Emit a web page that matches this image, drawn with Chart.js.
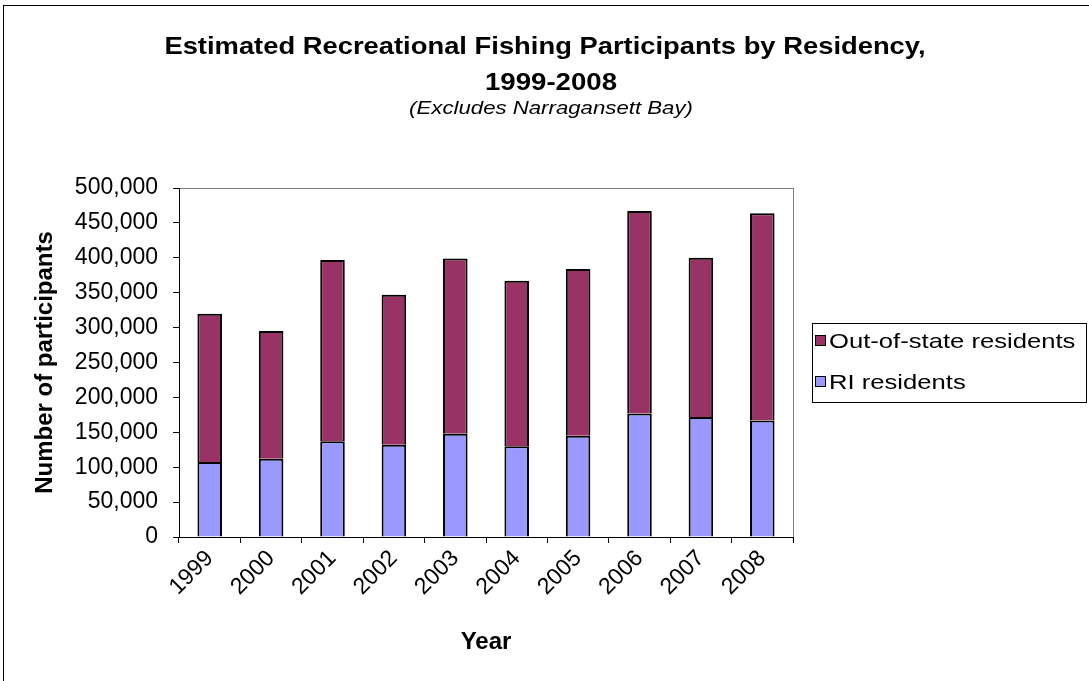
<!DOCTYPE html>
<html>
<head>
<meta charset="utf-8">
<script src="https://cdn.jsdelivr.net/npm/chart.js@4.4.0/dist/chart.umd.min.js"></script>
<style>
  html, body { margin: 0; padding: 0; background: #fff; }
  #wrap { width: 1089px; height: 681px; position: relative; }
</style>
</head>
<body>
<div id="wrap"><canvas id="c" width="1089" height="681"></canvas></div>
<script>
const years = ['1999','2000','2001','2002','2003','2004','2005','2006','2007','2008'];
const riResidents = [107500, 112000, 137000, 132000, 148000, 130000, 145000, 177000, 172000, 167000];
const totalParticipants = [320000, 295000, 397000, 347000, 399000, 367000, 384000, 467000, 400000, 464000];
const outOfState = totalParticipants.map((t, i) => t - riResidents[i]);
const seriesLabels = ['RI residents', 'Out-of-state residents'];
const seriesColors = ['#9999FF', '#993366'];
const titleLines = ['Estimated Recreational Fishing Participants by Residency,', '1999-2008'];
const subtitleText = '(Excludes Narragansett Bay)';
const yAxisTitle = 'Number of participants';
const xAxisTitle = 'Year';

const FONT = "'Liberation Sans', Arial, sans-serif";

function stretchedText(ctx, text, x, y, sx) {
  ctx.save();
  ctx.translate(x, y);
  ctx.scale(sx, 1);
  ctx.fillText(text, 0, 0);
  ctx.restore();
}

const decor = {
  id: 'decor',
  beforeDraw(chart) {
    const ctx = chart.ctx;
    ctx.save();
    ctx.fillStyle = '#fff';
    ctx.fillRect(0, 0, chart.width, chart.height);
    ctx.strokeStyle = '#000';
    ctx.lineWidth = 1;
    ctx.strokeRect(3.5, 5.5, 1200, 1200);
    const a = chart.chartArea;
    ctx.strokeStyle = '#808080';
    ctx.strokeRect(a.left + 0.5, a.top + 0.5, a.right - a.left, a.bottom - a.top);
    ctx.restore();
  },
  afterDraw(chart) {
    const ctx = chart.ctx;
    ctx.save();
    ctx.fillStyle = '#000';
    ctx.textAlign = 'center';
    ctx.textBaseline = 'middle';
    ctx.font = 'bold 24px ' + FONT;
    stretchedText(ctx, titleLines[0], 545, 47, 1.14);
    stretchedText(ctx, titleLines[1], 551, 83, 1.15);
    ctx.font = 'italic 18.5px ' + FONT;
    stretchedText(ctx, subtitleText, 551, 109, 1.2);

    // legend
    ctx.strokeStyle = '#000';
    ctx.lineWidth = 1;
    ctx.strokeRect(812.5, 323.5, 274, 79);
    const items = [
      { label: seriesLabels[1], color: seriesColors[1], y: 341 },
      { label: seriesLabels[0], color: seriesColors[0], y: 382 }
    ];
    ctx.font = '21px ' + FONT;
    ctx.textAlign = 'left';
    items.forEach(it => {
      ctx.fillStyle = it.color;
      ctx.fillRect(815.5, it.y - 5.5, 10, 10);
      ctx.strokeStyle = '#000';
      ctx.strokeRect(815.5, it.y - 5.5, 10, 10);
      ctx.fillStyle = '#000';
      stretchedText(ctx, it.label, 829, it.y + 1, 1.22);
    });
    ctx.restore();
  }
};

new Chart(document.getElementById('c'), {
  type: 'bar',
  data: {
    labels: years,
    datasets: [
      { label: seriesLabels[0], data: riResidents, backgroundColor: seriesColors[0], borderColor: '#000', borderWidth: 2, barPercentage: 0.4, categoryPercentage: 1.0 },
      { label: seriesLabels[1], data: outOfState, backgroundColor: seriesColors[1], borderColor: '#000', borderWidth: 2, barPercentage: 0.4, categoryPercentage: 1.0 }
    ]
  },
  options: {
    responsive: false,
    animation: false,
    devicePixelRatio: 1,
    layout: { padding: { left: 0, top: 188, right: 296, bottom: 0 } },
    plugins: { legend: { display: false }, tooltip: { enabled: false }, title: { display: false } },
    scales: {
      x: {
        stacked: true,
        afterFit(scale) { scale.height = 144; },
        grid: { display: true, drawOnChartArea: false, drawTicks: true, tickLength: 6, color: '#000', offset: true },
        border: { display: true, color: '#000', width: 1 },
        ticks: { color: '#000', font: { family: FONT, size: 23 }, maxRotation: 45, minRotation: 45, padding: 2, autoSkip: false },
        title: { display: true, text: xAxisTitle, color: '#000', font: { family: FONT, size: 24, weight: 'bold' }, padding: { top: 0, bottom: 24 } }
      },
      y: {
        stacked: true,
        min: 0,
        max: 500000,
        afterFit(scale) { scale.width = 179; },
        grid: { display: true, drawOnChartArea: false, drawTicks: true, tickLength: 6, color: '#000' },
        border: { display: true, color: '#000', width: 1 },
        ticks: {
          stepSize: 50000,
          color: '#000',
          padding: 15,
          font: { family: FONT, size: 23 },
          callback: v => v.toLocaleString('en-US')
        },
        title: { display: true, text: yAxisTitle, color: '#000', font: { family: FONT, size: 24, weight: 'bold' }, padding: { top: 31, bottom: 0 } }
      }
    }
  },
  plugins: [decor]
});
</script>
</body>
</html>
